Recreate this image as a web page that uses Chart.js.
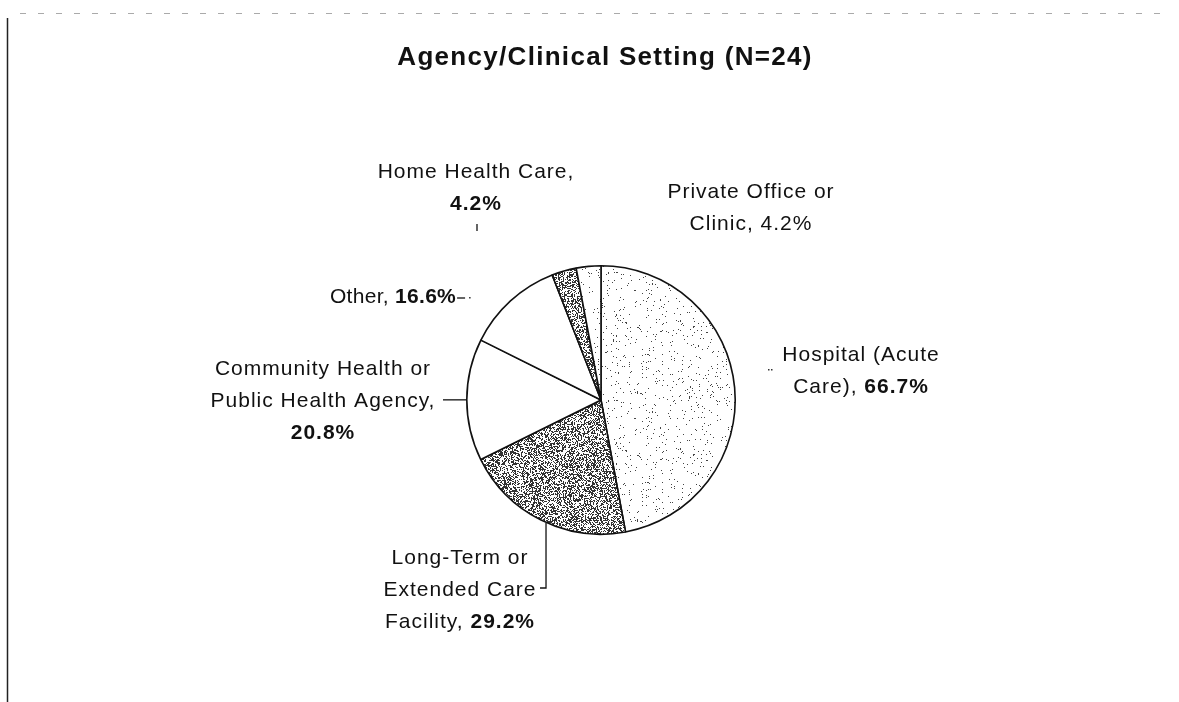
<!DOCTYPE html>
<html>
<head>
<meta charset="utf-8">
<script src="https://cdn.jsdelivr.net/npm/chart.js@4.4.1/dist/chart.umd.min.js"></script>
<style>
html,body{margin:0;padding:0;background:#fff;}
#wrap{position:relative;width:1179px;height:702px;}
canvas{display:block;}
</style>
</head>
<body>
<div id="wrap"><canvas id="c" width="1179" height="702"></canvas></div>
<script>
// ---- data ----
const titleText = 'Agency/Clinical Setting (N=24)';
const categories = ['Hospital (Acute Care)', 'Long-Term or Extended Care Facility', 'Community Health or Public Health Agency', 'Other', 'Home Health Care', 'Private Office or Clinic'];
const values = [66.7, 29.2, 20.8, 16.6, 4.2, 4.2];
// label text lines (regular part per line; percentage appended on the last line)
const labelLines = [
  ['Hospital (Acute', 'Care), '],
  ['Long-Term or', 'Extended Care', 'Facility, '],
  ['Community Health or', 'Public Health Agency,', ''],
  ['Other, '],
  ['Home Health Care,', ''],
  ['Private Office or', 'Clinic, ']
];
const pctBold = [true, true, true, true, true, false];

// ---- styles / layout ----
const labelPos = [
  {x: 861, y: 355}, {x: 460, y: 558}, {x: 323, y: 369},
  {x: 393, y: 297}, {x: 476, y: 172}, {x: 751, y: 192}
];
const lineH = 32;
const FONT = '"Liberation Sans", Arial, sans-serif';

function makePattern(density, seed, dark) {
  const s = 128;
  const cv = document.createElement('canvas');
  cv.width = s; cv.height = s;
  const g = cv.getContext('2d');
  g.fillStyle = '#ffffff';
  g.fillRect(0, 0, s, s);
  let st = seed >>> 0;
  const rnd = () => {
    st = (st + 0x6D2B79F5) >>> 0;
    let t = st;
    t = Math.imul(t ^ (t >>> 15), t | 1);
    t ^= t + Math.imul(t ^ (t >>> 7), t | 61);
    return ((t ^ (t >>> 14)) >>> 0) / 4294967296;
  };
  g.fillStyle = dark;
  for (let y = 0; y < s; y++) {
    for (let x = 0; x < s; x++) {
      if (rnd() < density) g.fillRect(x, y, 1, 1);
    }
  }
  return g.createPattern(cv, 'repeat');
}
const sparse = makePattern(0.03, 12345, '#444');
const dense = makePattern(0.46, 777, '#333');
const fills = [sparse, dense, '#ffffff', '#ffffff', dense, sparse];

const labelPlugin = {
  id: 'labels',
  afterDraw(chart) {
    const ctx = chart.ctx;
    ctx.save();
    // scan frame artifacts
    ctx.strokeStyle = '#222';
    ctx.lineWidth = 1.5;
    ctx.beginPath(); ctx.moveTo(7.5, 18); ctx.lineTo(7.5, 702); ctx.stroke();
    ctx.strokeStyle = '#aaa';
    ctx.lineWidth = 1;
    ctx.setLineDash([6, 12]);
    ctx.beginPath(); ctx.moveTo(20, 13.5); ctx.lineTo(1170, 13.5); ctx.stroke();
    ctx.setLineDash([]);

    // title
    ctx.fillStyle = '#111';
    ctx.textAlign = 'center';
    ctx.textBaseline = 'middle';
    ctx.font = 'bold 26px ' + FONT;
    ctx.letterSpacing = '1.3px';
    ctx.fillText(titleText, 605, 58);

    const meta = chart.getDatasetMeta(0);
    const fontR = '21px ' + FONT, fontB = 'bold 21px ' + FONT;
    const ends = [];
    values.forEach((v, i) => {
      const lines = labelLines[i];
      const pct = v.toFixed(1) + '%';
      ctx.letterSpacing = i === 3 ? '0.3px' : '1px';
      lines.forEach((ln, j) => {
        const last = j === lines.length - 1;
        const y = labelPos[i].y + j * lineH;
        ctx.font = fontR;
        const w1 = ln ? ctx.measureText(ln).width : 0;
        let w2 = 0;
        const pf = pctBold[i] ? fontB : fontR;
        if (last) { ctx.font = pf; w2 = ctx.measureText(pct).width; }
        const x0 = labelPos[i].x - (w1 + w2) / 2;
        ctx.textAlign = 'left';
        ctx.font = fontR;
        if (ln) ctx.fillText(ln, x0, y);
        if (last) { ctx.font = pf; ctx.fillText(pct, x0 + w1, y); ends[i] = x0 + w1 + w2; }
      });
    });
    ctx.letterSpacing = '0px';

    // leader lines, anchored to the arcs
    ctx.strokeStyle = '#111';
    ctx.lineWidth = 1.3;
    const anchor = (i) => {
      const a = meta.data[i];
      const p = a.getProps(['x', 'y', 'startAngle', 'endAngle', 'outerRadius'], true);
      const m = (p.startAngle + p.endAngle) / 2;
      return {x: p.x + Math.cos(m) * p.outerRadius, y: p.y + Math.sin(m) * p.outerRadius};
    };
    // Long-term: vertical down then short left
    let a = anchor(1);
    ctx.beginPath(); ctx.moveTo(a.x + 5, a.y + 3); ctx.lineTo(a.x + 5, 588); ctx.lineTo(a.x - 1, 588); ctx.stroke();
    // Community: horizontal
    a = anchor(2);
    ctx.beginPath(); ctx.moveTo(443, a.y); ctx.lineTo(a.x, a.y); ctx.stroke();
    // Other: short dash right after the label
    ctx.beginPath(); ctx.moveTo(ends[3] + 1, 298); ctx.lineTo(ends[3] + 9, 298); ctx.stroke();
    ctx.fillStyle = '#333';
    ctx.fillRect(ends[3] + 13, 297, 1.5, 1.5);
    // Home Health: small tick
    ctx.beginPath(); ctx.moveTo(477, 224); ctx.lineTo(477, 231); ctx.stroke();
    // Hospital: faint dots
    ctx.fillRect(768, 369, 1.5, 1.5);
    ctx.fillRect(771, 369, 1.5, 1.5);
    ctx.restore();
  }
};

new Chart(document.getElementById('c'), {
  type: 'pie',
  data: {
    labels: categories,
    datasets: [{
      data: values,
      backgroundColor: fills,
      borderColor: '#111',
      borderWidth: 1.6,
      borderAlign: 'center'
    }]
  },
  options: {
    responsive: false,
    animation: false,
    events: [],
    layout: {padding: {left: 466, right: 443, top: 265, bottom: 167}},
    plugins: {legend: {display: false}, tooltip: {enabled: false}, title: {display: false}}
  },
  plugins: [labelPlugin]
});
</script>
</body>
</html>
